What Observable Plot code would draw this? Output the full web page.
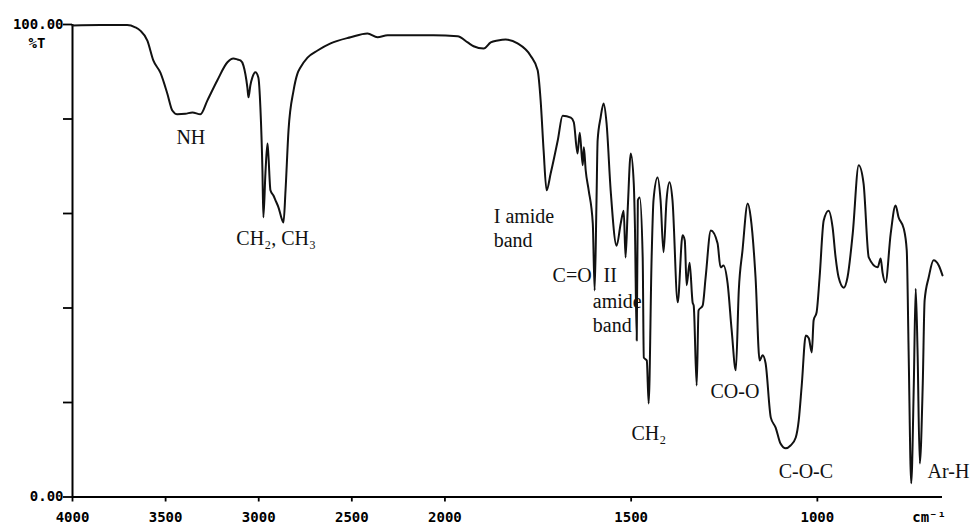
<!DOCTYPE html>
<html><head><meta charset="utf-8">
<script src="https://cdn.jsdelivr.net/npm/d3@7"></script>
<script src="https://cdn.jsdelivr.net/npm/@observablehq/plot@0.6"></script>
<style>body{margin:0;background:#fff} #chart{width:973px;height:525px}</style>
</head><body><div id="chart"></div>
<script>
// IR spectrum: wavenumber (cm-1) and transmittance (%T)
const wavenumber = [
  4000, 3851, 3706, 3663, 3636, 3598, 3566, 3528, 3491, 3464,
  3437, 3394, 3356, 3313, 3276, 3222, 3168, 3136, 3114, 3098,
  3082, 3061, 3055, 3045, 3034, 3018, 3002, 2991, 2980, 2975,
  2964, 2953, 2948, 2937, 2921, 2910, 2894, 2873, 2867, 2856,
  2840, 2813, 2792, 2776, 2738, 2684, 2614, 2507, 2416, 2362,
  2308, 2184, 2061, 1966, 1939, 1923, 1896, 1877, 1858, 1837,
  1805, 1770, 1751, 1743, 1735, 1727, 1716, 1697, 1684, 1662,
  1654, 1644, 1638, 1630, 1627, 1622, 1614, 1603, 1598, 1593,
  1590, 1582, 1574, 1566, 1555, 1539, 1528, 1520, 1515, 1509,
  1501, 1493, 1490, 1485, 1482, 1477, 1469, 1466, 1458, 1453,
  1445, 1440, 1429, 1421, 1413, 1405, 1397, 1389, 1375, 1362,
  1356, 1351, 1343, 1335, 1332, 1324, 1319, 1308, 1300, 1286,
  1268, 1260, 1252, 1241, 1230, 1219, 1211, 1201, 1187, 1179,
  1166, 1155, 1147, 1139, 1125, 1112, 1099, 1085, 1072, 1058,
  1050, 1042, 1031, 1023, 1015, 1010, 1002, 994, 983, 970,
  959, 951, 943, 929, 919, 905, 889, 876, 862, 838,
  830, 825, 817, 803, 790, 782, 768, 760, 755, 748,
  741, 736, 731, 725, 717, 712, 701, 688, 674, 664
];
const transmittance = [
  99.8, 99.9, 99.9, 99.4, 98.7, 96.6, 92.4, 89.8, 85.4, 81.8,
  81.0, 81.1, 81.4, 81.0, 83.9, 88.2, 92.0, 92.8, 92.6, 92.4,
  91.3, 86.7, 84.6, 87.1, 88.8, 89.9, 88.8, 82.4, 69.1, 59.2,
  68.5, 74.8, 72.3, 64.9, 63.8, 62.8, 61.3, 58.5, 58.1, 64.9,
  77.6, 86.0, 89.6, 90.9, 93.0, 94.5, 96.0, 97.3, 98.1, 97.3,
  97.7, 97.7, 97.7, 97.5, 96.2, 95.4, 94.9, 96.2, 96.6, 96.8,
  96.0, 93.4, 90.3, 83.9, 73.3, 64.9, 68.5, 75.5, 80.7, 80.3,
  79.3, 72.7, 77.1, 70.2, 74.0, 69.1, 64.9, 57.9, 43.7, 62.8,
  75.5, 80.3, 83.3, 79.1, 64.9, 53.2, 57.9, 60.6, 50.7, 61.3,
  72.7, 66.4, 57.9, 33.1, 62.8, 63.4, 50.7, 29.5, 28.9, 19.8,
  50.7, 62.8, 67.6, 62.8, 51.8, 62.8, 66.6, 62.8, 41.2, 55.4,
  54.3, 44.8, 49.6, 41.2, 40.5, 23.6, 39.5, 40.5, 46.5, 56.4,
  53.7, 48.6, 49.0, 45.2, 35.2, 26.8, 43.7, 52.2, 62.1, 59.2,
  46.5, 28.9, 30.0, 28.3, 16.8, 14.7, 11.3, 10.3, 10.9, 12.6,
  16.2, 23.6, 34.2, 33.6, 30.6, 37.4, 39.1, 46.5, 58.5, 60.6,
  57.0, 50.7, 46.5, 44.3, 46.5, 55.8, 70.2, 66.4, 50.7, 48.6,
  50.5, 47.5, 45.4, 55.8, 61.7, 59.2, 56.8, 52.2, 31.0, 2.9,
  24.0, 44.1, 31.0, 7.1, 24.0, 41.6, 46.5, 50.1, 49.0, 46.9
];

// axes
const xTicks = [4000, 3500, 3000, 2500, 2000, 1500, 1000];
const xStart = 4000, xBreak = 2000, xEnd = 664;
const xUnitLabel = "cm⁻¹";
const xUnitAt = 700;
const yTicks = [0, 20, 40, 60, 80, 100];
const yTickLabels = {100: "100.00", 0: "0.00"};
const yUnitLabel = "%T";

// band annotations (text, wavenumber, %T at baseline)
const labelText = ["NH", "CH₂, CH₃", "I amide\nband", "C=O", "II", "amide\nband", "CH₂", "CO-O", "C-O-C", "Ar-H"];
const labelWn   = [3442, 3120, 1869, 1711, 1574, 1603, 1499, 1287, 1104, 704];
const labelT    = [74.8, 53.4, 53.0, 45.6, 45.6, 35.0, 12.0, 20.9, 4.1, 4.1];

// The spectrometer's wavenumber axis is drawn at double scale below 2000 cm-1:
// map wavenumber onto a continuous "chart coordinate" handled by a linear scale.
const warp = wn => wn >= xBreak ? (xStart - wn) / 2 : (xStart - xBreak) / 2 + (xBreak - wn);
const unwarp = u => u <= (xStart - xBreak) / 2 ? xStart - 2 * u : xBreak - (u - (xStart - xBreak) / 2);

const W = 973, H = 525;

const chart = Plot.plot({
  width: W, height: H,
  marginLeft: 72, marginRight: 31, marginTop: 24, marginBottom: 28.5,
  style: {background: "#fff", color: "#000", fontFamily: "'DejaVu Sans Mono', monospace", fontSize: "14px", fontWeight: "bold", overflow: "visible"},
  x: {domain: [warp(xStart), warp(xEnd)]},
  y: {domain: [0, 100]},
  marks: [
    Plot.axisY({ticks: yTicks, tickSize: 9, tickPadding: 0, strokeWidth: 1.8, tickFormat: d => yTickLabels[d] ?? "", label: null}),
    Plot.axisX({ticks: xTicks.map(warp), tickSize: 5, tickPadding: 10.5, strokeWidth: 1.8, tickFormat: u => String(Math.round(unwarp(u))), label: null}),
    Plot.text([yUnitLabel], {text: d => d, frameAnchor: "top-left", dx: -44, dy: 14}),
    Plot.text([xUnitLabel], {text: d => d, x: [warp(xUnitAt)], y: [0], lineAnchor: "top", dy: 15.5}),
    Plot.ruleX([warp(xStart)], {strokeWidth: 2}),
    Plot.ruleY([0], {strokeWidth: 2}),
    Plot.line(transmittance, {x: wavenumber.map(warp), y: transmittance, stroke: "#111", strokeWidth: 2, curve: "monotone-x"}),
    Plot.text(labelText, {x: labelWn.map(warp), y: labelT, text: d => d, textAnchor: "start", lineAnchor: "bottom", lineHeight: 1.2,
      fontFamily: "'Liberation Serif', 'DejaVu Serif', serif", fontSize: 20, fontWeight: "normal", fill: "#111"})
  ]
});
document.getElementById("chart").appendChild(chart);
</script>
</body></html>
